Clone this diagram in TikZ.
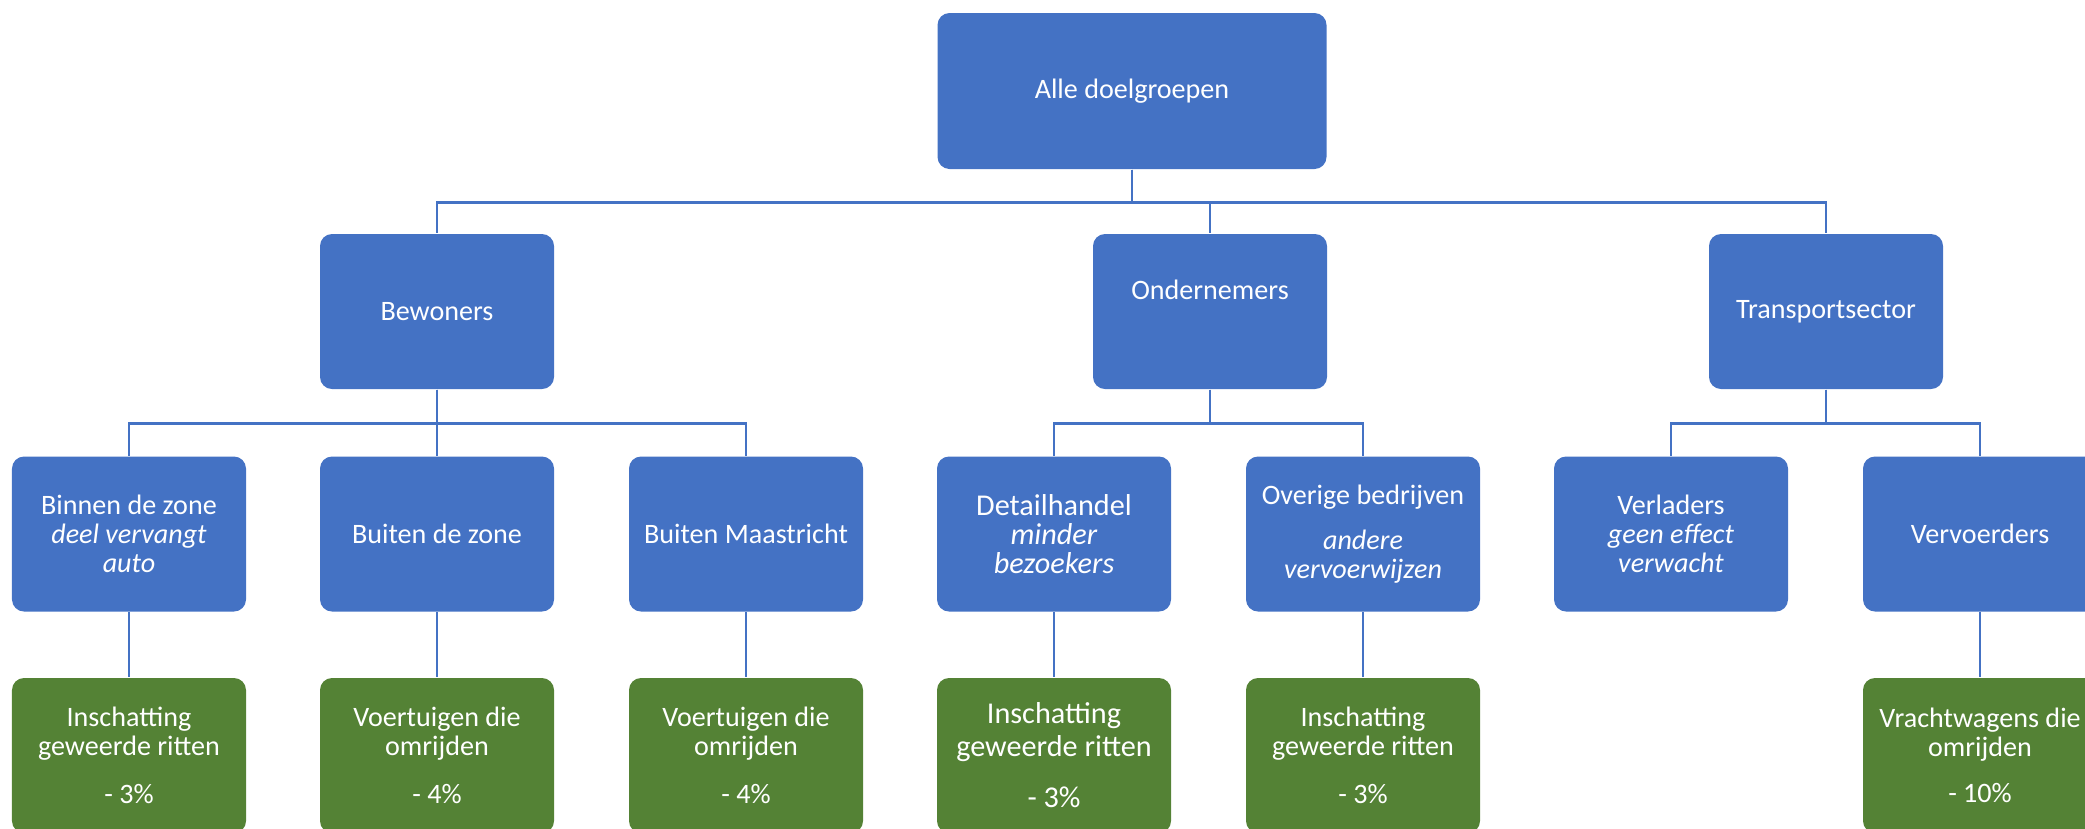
\documentclass[tikz,border=0pt]{standalone}
\usepackage{fontspec}
\setmainfont{Carlito}
\definecolor{boxblue}{HTML}{4472C4}
\definecolor{boxgreen}{HTML}{548235}
\begin{document}
\begin{tikzpicture}[
  blok/.style={fill=boxblue,rounded corners=0.12cm,minimum width=2.34cm,minimum height=1.55cm,inner sep=0pt,text=white,align=center,font=\fontsize{8}{8.2}\selectfont},
  groen/.style={blok,fill=boxgreen},
  lijn/.style={draw=boxblue,line width=0.7pt}]
\clip (0,0) rectangle (20.85,-8.28);
\node[blok,minimum width=3.89cm,minimum height=1.56cm] (alle) at (11.32,-0.91) {Alle doelgroepen};

\node[blok] (bewoners) at (4.37,-3.115) {Bewoners};
\node[blok] (ondernemers) at (12.10,-3.115) {Ondernemers\\[0.15cm]\mbox{}};
\node[blok] (transport) at (18.26,-3.115) {Transportsector};

\node[blok] (binnen) at (1.29,-5.34) {Binnen de zone\\\textit{deel vervangt}\\\textit{auto}};
\node[blok] (buitenzone) at (4.37,-5.34) {Buiten de zone};
\node[blok] (buitenmaas) at (7.46,-5.34) {Buiten Maastricht};
\node[blok,font=\fontsize{8.6}{8.3}\selectfont] (detail) at (10.54,-5.34) {Detailhandel\\\textit{minder}\\\textit{bezoekers}};
\node[blok] (overig) at (13.63,-5.34) {Overige bedrijven\\[0.16cm]\textit{andere}\\\textit{vervoerwijzen}};
\node[blok] (verladers) at (16.71,-5.34) {Verladers\\\textit{geen effect}\\\textit{verwacht}};
\node[blok] (vervoerders) at (19.80,-5.34) {Vervoerders};

\node[groen] (ritbinnen) at (1.29,-7.555) {Inschatting\\geweerde ritten\\[0.19cm]- 3\%};
\node[groen] (omrijzone) at (4.37,-7.555) {Voertuigen die\\omrijden\\[0.19cm]- 4\%};
\node[groen] (omrijmaas) at (7.46,-7.555) {Voertuigen die\\omrijden\\[0.19cm]- 4\%};
\node[groen,font=\fontsize{8.6}{9.4}\selectfont] (ritdetail) at (10.54,-7.555) {Inschatting\\geweerde ritten\\[0.18cm]- 3\%};
\node[groen] (ritoverig) at (13.63,-7.555) {Inschatting\\geweerde ritten\\[0.19cm]- 3\%};
\node[groen] (omrijvracht) at (19.80,-7.555) {Vrachtwagens die\\omrijden\\[0.17cm]- 10\%};

\draw[lijn] (alle.south) -- ++(0,-0.33) -| (bewoners.north);
\draw[lijn] (alle.south) -- ++(0,-0.33) -| (ondernemers.north);
\draw[lijn] (alle.south) -- ++(0,-0.33) -| (transport.north);

\draw[lijn] (bewoners.south) -- ++(0,-0.34) -| (binnen.north);
\draw[lijn] (bewoners.south) -- ++(0,-0.34) -| (buitenzone.north);
\draw[lijn] (bewoners.south) -- ++(0,-0.34) -| (buitenmaas.north);
\draw[lijn] (ondernemers.south) -- ++(0,-0.34) -| (detail.north);
\draw[lijn] (ondernemers.south) -- ++(0,-0.34) -| (overig.north);
\draw[lijn] (transport.south) -- ++(0,-0.34) -| (verladers.north);
\draw[lijn] (transport.south) -- ++(0,-0.34) -| (vervoerders.north);

\draw[lijn] (binnen) -- (ritbinnen);
\draw[lijn] (buitenzone) -- (omrijzone);
\draw[lijn] (buitenmaas) -- (omrijmaas);
\draw[lijn] (detail) -- (ritdetail);
\draw[lijn] (overig) -- (ritoverig);
\draw[lijn] (vervoerders) -- (omrijvracht);
\end{tikzpicture}
\end{document}
